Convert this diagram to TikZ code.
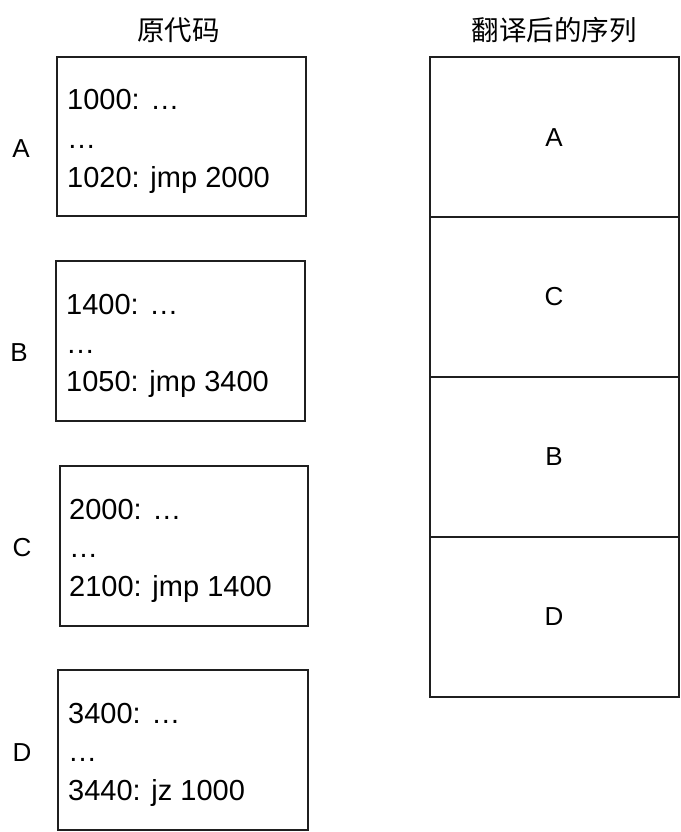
\documentclass[tikz,border=0pt]{standalone}
\usepackage{fontspec}
\setmainfont{Liberation Sans}
\newfontfamily\cjk{Noto Sans CJK SC}
\begin{document}
\begin{tikzpicture}[x=1pt,y=-1pt,
  box/.style={draw=black!88,line width=2pt},
  codetxt/.style={anchor=base west,inner sep=0pt,font=\fontsize{29}{34}\selectfont},
  lbl/.style={inner sep=0pt,font=\fontsize{26}{30}\selectfont},
  ttl/.style={inner sep=0pt,font=\cjk\fontsize{27.5}{32}\selectfont}]
\useasboundingbox (0,0) rectangle (680,832);
% titles
\node[ttl] (t1) at (178.5,30) {原代码};
\node[ttl] (t2) at (554,30) {翻译后的序列};
% left boxes
\draw[box] (57,57) rectangle (306,216);
\draw[box] (56,261) rectangle (305,421);
\draw[box] (60,466) rectangle (308,626);
\draw[box] (58,670) rectangle (308,830);
% code texts
\node[codetxt] (a1) at (67,110) {1000: …};
\node[codetxt] (a2) at (67,148.5) {…};
\node[codetxt] (a3) at (67,187) {1020: jmp 2000};
\node[codetxt] (b1) at (66,314.5) {1400: …};
\node[codetxt] (b2) at (66,353) {…};
\node[codetxt] (b3) at (66,391.5) {1050: jmp 3400};
\node[codetxt] (c1) at (69,519) {2000: …};
\node[codetxt] (c2) at (69,557.5) {…};
\node[codetxt] (c3) at (69,596) {2100: jmp 1400};
\node[codetxt] (d1) at (68,723) {3400: …};
\node[codetxt] (d2) at (68,761.5) {…};
\node[codetxt] (d3) at (68,800) {3440: jz 1000};
% side labels
\node[lbl] (la) at (21,148.5) {A};
\node[lbl] (lb) at (19,353) {B};
\node[lbl] (lc) at (22,548) {C};
\node[lbl] (ld) at (22,753) {D};
% right column
\draw[box] (430,57) rectangle (679,697);
\draw[box] (430,217) -- (679,217);
\draw[box] (430,377) -- (679,377);
\draw[box] (430,537) -- (679,537);
\node[lbl] (ra) at (554,138) {A};
\node[lbl] (rc) at (554,297) {C};
\node[lbl] (rb) at (554,457) {B};
\node[lbl] (rd) at (554,617) {D};
\end{tikzpicture}
\end{document}
